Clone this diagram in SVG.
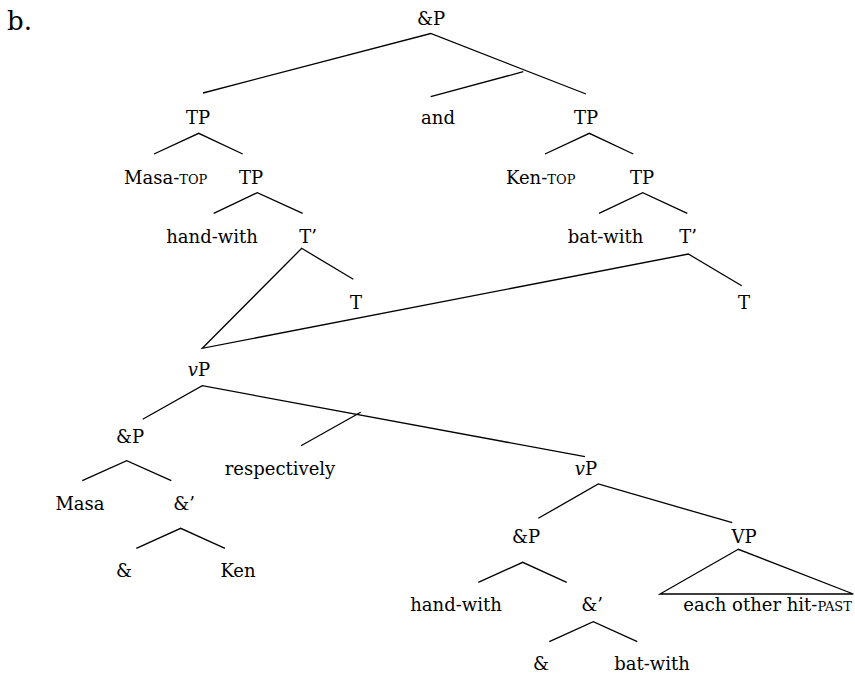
<svg xmlns="http://www.w3.org/2000/svg" width="855" height="675" viewBox="0 0 855 675">
<style>
text{font-family:"DejaVu Serif","Liberation Serif",serif;font-size:18px;fill:#000;text-anchor:middle}
.s{text-anchor:start}
.sc{font-size:13px}
.big{font-size:26px;text-anchor:start}
#edges line,#edges polyline{stroke:#000;stroke-width:1.3;fill:none}
</style>
<rect width="855" height="675" fill="#fff"/>
<text class="big" x="7" y="29.5">b.</text>
<g id="edges">
<polyline points="203,93 430.7,33.5 586,94"/>
<line x1="523.3" y1="71.7" x2="430.7" y2="96.7"/>
<polyline points="154,154 198.7,133.3 242.7,154"/>
<polyline points="213.7,213.3 257.3,192.7 302.7,213.3"/>
<polyline points="545,154 589.3,133.3 633.3,154"/>
<polyline points="599,213.3 642.7,192.7 687.3,213.3"/>
<polyline points="353.3,279.3 301.7,248.3 202.3,348.3 688.3,254 741.7,285.7"/>
<polyline points="142.7,419.3 202.3,385.7 585,456.7"/>
<line x1="360.7" y1="412.3" x2="301" y2="445.7"/>
<polyline points="82.3,480.7 126.7,460.7 171.3,480.7"/>
<polyline points="136.3,548.3 180.7,528.3 225,548.3"/>
<polyline points="538.3,518.3 598.3,484 732.3,522.7"/>
<polyline points="478.3,582.3 522.7,562.3 566.7,582.3"/>
<polygon points="738.3,549.3 660,594 853.3,594" style="stroke:#000;stroke-width:1.3;fill:none"/>
<polyline points="549.3,641.7 593.3,621.7 637.3,641.7"/>
</g>
<g id="n-andP"><text x="431" y="25">&amp;P</text></g>
<g id="n-TP1"><text x="198" y="124">TP</text></g>
<g id="n-and"><text x="438" y="124">and</text></g>
<g id="n-TP2"><text x="586" y="124">TP</text></g>
<g id="n-masatop"><text class="s" x="124" y="184">Masa-<tspan class="sc">TOP</tspan></text></g>
<g id="n-TP1b"><text x="251" y="184">TP</text></g>
<g id="n-kentop"><text class="s" x="506" y="184">Ken-<tspan class="sc">TOP</tspan></text></g>
<g id="n-TP2b"><text x="642" y="184">TP</text></g>
<g id="n-handwith1"><text x="212" y="243">hand-with</text></g>
<g id="n-Tbar1"><text x="308" y="243">T’</text></g>
<g id="n-batwith1"><text x="605.5" y="243">bat-with</text></g>
<g id="n-Tbar2"><text x="688" y="243">T’</text></g>
<g id="n-T1"><text x="356" y="309">T</text></g>
<g id="n-T2"><text x="744" y="309">T</text></g>
<g id="n-vP1"><text x="199" y="376"><tspan font-style="italic">v</tspan>P</text></g>
<g id="n-andP2"><text x="130" y="443">&amp;P</text></g>
<g id="n-resp"><text x="280" y="475">respectively</text></g>
<g id="n-masa"><text x="80" y="510">Masa</text></g>
<g id="n-andbar1"><text x="184" y="510">&amp;’</text></g>
<g id="n-amp1"><text x="124" y="577">&amp;</text></g>
<g id="n-ken"><text x="238" y="577">Ken</text></g>
<g id="n-vP2"><text x="586" y="475"><tspan font-style="italic">v</tspan>P</text></g>
<g id="n-andP3"><text x="526" y="543">&amp;P</text></g>
<g id="n-VP"><text x="744" y="543">VP</text></g>
<g id="n-handwith2"><text x="456" y="611">hand-with</text></g>
<g id="n-andbar2"><text x="592" y="611">&amp;’</text></g>
<g id="n-hit"><text class="s" x="683.3" y="611">each other hit-<tspan class="sc">PAST</tspan></text></g>
<g id="n-amp2"><text x="541" y="670">&amp;</text></g>
<g id="n-batwith2"><text x="652" y="670">bat-with</text></g>
</svg>
